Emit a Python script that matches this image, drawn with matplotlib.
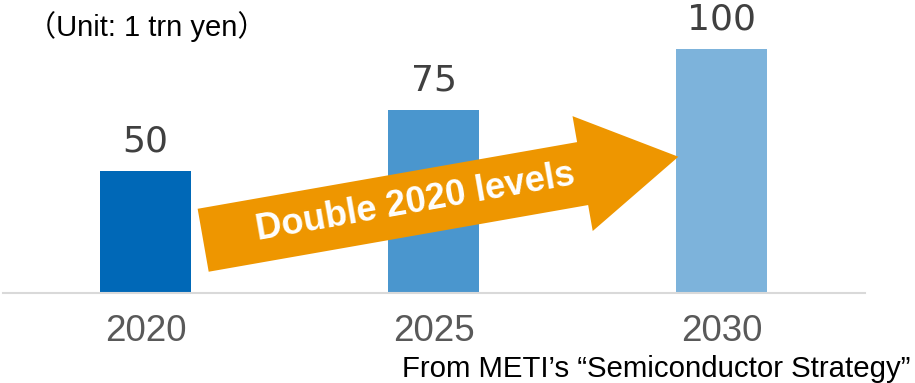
import numpy as np
import matplotlib.pyplot as plt
from matplotlib.patches import FancyArrowPatch, ArrowStyle

# 시장 규모 데이터 (단위: 조 엔)
years = ['2020', '2025', '2030']
values = [50, 75, 100]
bar_colors = ['#0068B7', '#4A96CE', '#7DB3DB']

arrow_label = 'Double 2020 levels'
unit_label = '（Unit: 1 trn yen）'
source_label = 'From METI’s “Semiconductor Strategy”'

# 화살표 시작/끝 (데이터 좌표)
arrow_from = (0.20, 21.6)
arrow_to = (1.85, 55.8)

fig = plt.figure(figsize=(9.15, 3.83), dpi=100)
ax = fig.add_axes([3 / 915, 90 / 383, 862 / 915, 293 / 383])

x = np.arange(len(years))
bars = ax.bar(x, values, width=0.316, color=bar_colors, zorder=2)

# 막대 위 값 표시
ax.bar_label(bars, labels=[str(v) for v in values], padding=9,
             fontsize=26, color='#404040', family='DejaVu Sans')

ax.set_xlim(-0.495, 2.498)
ax.set_ylim(0, 120)
ax.set_xticks(x)
ax.set_xticklabels(years, fontsize=26.5, color='#595959', family='Liberation Sans')
ax.tick_params(axis='x', length=0, pad=15)
ax.set_yticks([])

for side in ['top', 'right', 'left']:
    ax.spines[side].set_visible(False)
ax.spines['bottom'].set_color('#D9D9D9')
ax.spines['bottom'].set_linewidth(1.5)

# 증가 추세 화살표
style = ArrowStyle.Simple(head_length=70, head_width=84, tail_width=46)
arrow = FancyArrowPatch(arrow_from, arrow_to, arrowstyle=style, mutation_scale=1,
                        shrinkA=0, shrinkB=0, color='#EE9600', lw=0, zorder=3)
ax.add_patch(arrow)

# 화살표 각도 계산 후 텍스트 배치
p0 = ax.transData.transform(arrow_from)
p1 = ax.transData.transform(arrow_to)
angle = np.degrees(np.arctan2(p1[1] - p0[1], p1[0] - p0[0]))
t = 0.447
tx = arrow_from[0] + t * (arrow_to[0] - arrow_from[0])
ty = arrow_from[1] + t * (arrow_to[1] - arrow_from[1])
ax.text(tx, ty, arrow_label, rotation=angle, rotation_mode='anchor',
        ha='center', va='center', fontsize=26, fontweight='bold',
        color='white', family='Liberation Sans', zorder=4)

fig.text(27 / 915, (383 - 36) / 383, unit_label, fontsize=21, color='black',
         family=['Liberation Sans', 'Noto Sans CJK JP'], va='baseline', ha='left')
fig.text(911 / 915, (383 - 377) / 383, source_label, fontsize=21.2, color='black',
         family='Liberation Sans', va='baseline', ha='right')

fig.savefig('out.png', dpi=100)
